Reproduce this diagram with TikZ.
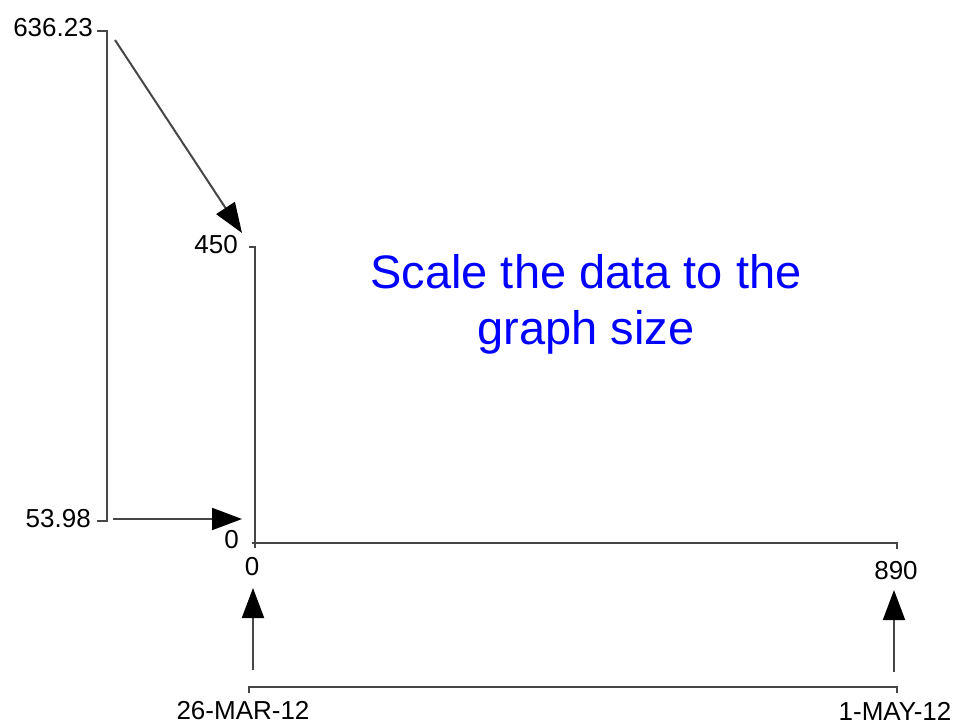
\documentclass[tikz,border=0pt]{standalone}
\usepackage{fontspec}
\setmainfont{Liberation Sans}
\usetikzlibrary{positioning, arrows.meta}
\definecolor{scaleblue}{RGB}{0,0,255}
\definecolor{axisgrey}{RGB}{70,70,70}
\tikzset{
    axisline/.style={line width=2pt, color=axisgrey},
    arr/.style={-{Triangle[length=30pt, width=22pt, color=black]}, line width=2pt, color=axisgrey},
    vallbl/.style={font=\fontsize{26}{30}\selectfont, inner sep=0pt, text=black},
    titlelbl/.style={font=\fontsize{47}{56}\selectfont, align=center, inner sep=0pt, text=scaleblue}
}
\begin{document}
\begin{tikzpicture}[x=1pt, y=1pt]
        \useasboundingbox (0,0) rectangle (955,724);
        % === Data range (left) ===
        \draw[axisline] (97,693) -- (107,693) -- (107,203) -- (97,203);
        \node[vallbl, anchor=east] (dmax) at (93,696) {636.23};
        \node[vallbl, anchor=east] (dmin) at (91,205) {53.98};
        \coordinate (dmaxfrom) at (115,684);
        \coordinate (dminfrom) at (113,205);
        
        % === Graph axes ===
        \draw[axisline] (249,477) -- (255,477) -- (255,176);
        \draw[axisline] (252,181) -- (897,181) -- (897,175);
        \node[vallbl, anchor=east] (ymax) at (238,479) {450};
        \node[vallbl, anchor=east] (yzero) at (239,184) {0};
        \node[vallbl] (xzero) at (252,157) {0};
        \node[vallbl] (xmax) at (896,153) {890};
        \coordinate (ymaxto) at (242,491);
        \coordinate (yzeroto) at (242,205);
        \coordinate (xzeroto) at (253,136);
        \coordinate (xmaxto) at (894,134);
        
        % === Date range (bottom) ===
        \draw[axisline] (249,31) -- (249,37) -- (897,37) -- (897,31);
        \node[vallbl] (dstart) at (243,13) {26-MAR-12};
        \node[vallbl] (dend) at (895,13) {1-MAY-12};
        \coordinate (dstartfrom) at (253,54);
        \coordinate (dendfrom) at (894,52);
        
        % === Mapping arrows ===
        \draw[arr] (dmaxfrom) -- (ymaxto);
        \draw[arr] (dminfrom) -- (yzeroto);
        \draw[arr] (dstartfrom) -- (xzeroto);
        \draw[arr] (dendfrom) -- (xmaxto);
        
        \node[titlelbl] (title) at (586,420) {Scale the data to the\\graph size};
    \end{tikzpicture}
\end{document}
